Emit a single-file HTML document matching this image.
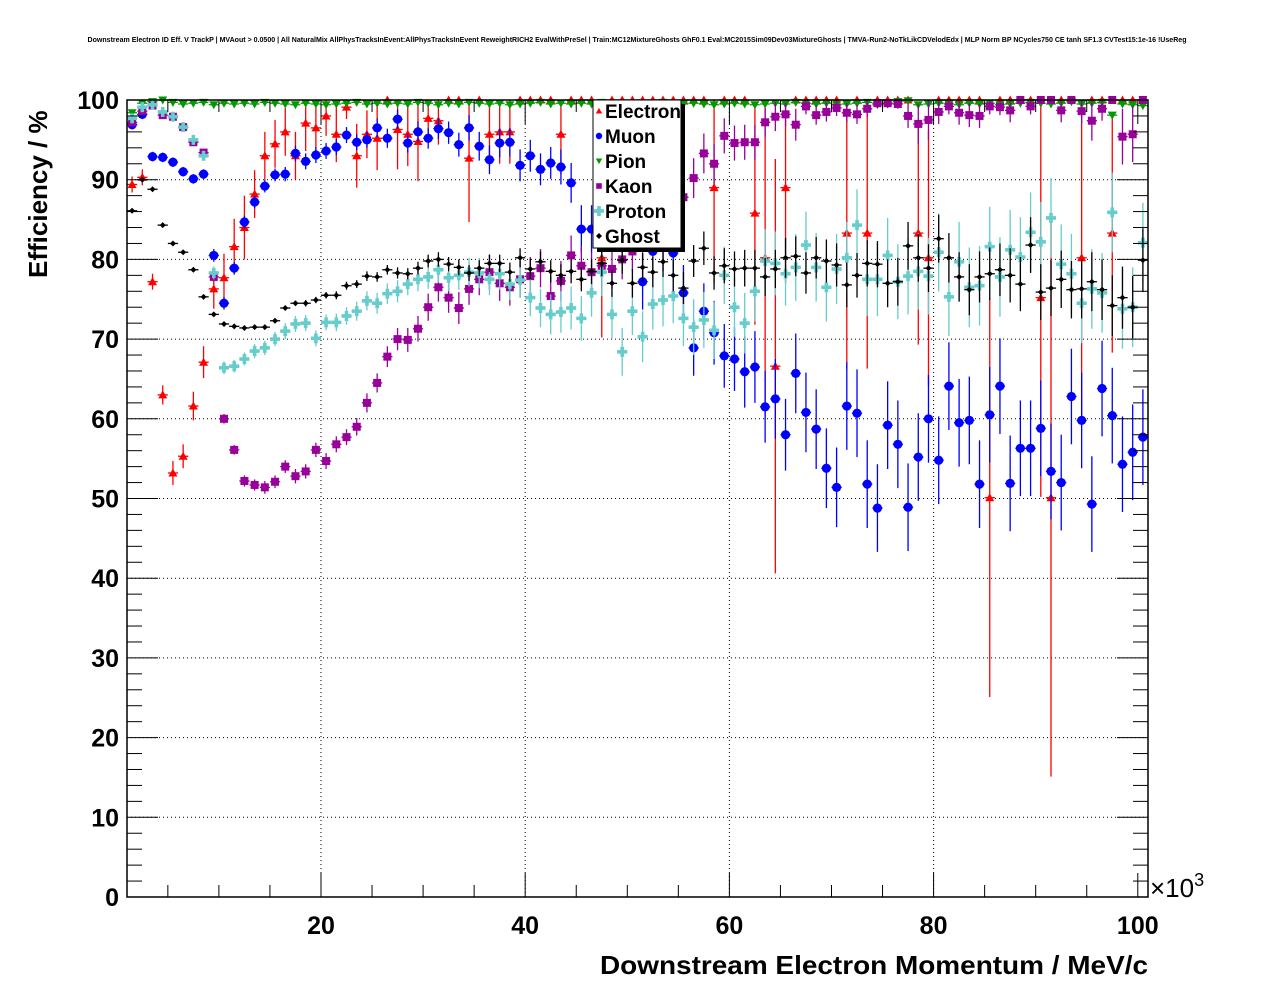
<!DOCTYPE html>
<html><head><meta charset="utf-8"><style>
html,body{margin:0;padding:0;background:#fff;}
svg{display:block;font-family:"Liberation Sans",Arial,sans-serif;}
</style></head><body>
<svg id="chart" width="1276" height="996" viewBox="0 0 1276 996" xmlns="http://www.w3.org/2000/svg">
<rect width="1276" height="996" fill="#fff"/>
<text x="637" y="42" font-size="7.1" font-weight="bold" text-anchor="middle" textLength="1099" lengthAdjust="spacingAndGlyphs">Downstream Electron ID Eff. V TrackP | MVAout &gt; 0.0500 | All NaturalMix AllPhysTracksInEvent:AllPhysTracksInEvent ReweightRICH2 EvalWithPreSel | Train:MC12MixtureGhosts GhF0.1 Eval:MC2015Sim09Dev03MixtureGhosts | TMVA-Run2-NoTkLikCDVelodEdx | MLP Norm BP NCycles750 CE tanh SF1.3 CVTest15:1e-16 !UseReg</text>
<g id="grid"></g>
<g id="marks"></g>
<g id="axes"></g>
<text transform="translate(47,278) rotate(-90)" font-size="26" font-weight="bold">Efficiency / %</text>
<text x="1148" y="974" font-size="26" font-weight="bold" text-anchor="end" textLength="548" lengthAdjust="spacingAndGlyphs">Downstream Electron Momentum / MeV/c</text>
<text x="1150" y="897" font-size="26">×10<tspan font-size="18" dy="-11">3</tspan></text>
<g id="legend"></g>
</svg>
<script>
const bins = Array.from({length:100},(_,i)=>i+1); // bin lower edges (x10^3 MeV/c)
const electronVals=[89.4,90.3,77.2,63,53.2,55.3,61.6,67.1,76.3,77.7,81.6,84,88.2,93,94.5,96,93,97.1,96.5,98,95.7,99.1,93,95.7,95.2,100,96.3,95.7,94.8,97.7,97.4,100,100,92.7,100,95.7,96,96,100,100,100,100,95.7,100,100,100,80.2,100,100,100,100,100,100,100,100,100,100,89,100,100,100,85.8,80.2,66.6,89,100,100,100,100,100,83.3,100,83.3,100,100,100,100,83.3,80.2,100,100,100,100,100,50.1,100,100,100,100,75.2,50.1,100,100,80.2,100,100,83.3,100,100,100];
const electronErr=[1,1,1,1.2,1.5,1.5,1.8,2,2.5,3,3.5,4,3,3,3,3,3,3.5,3.5,2.5,3.5,1.5,4,3,4,0.5,5,4,5,2,3,0.5,0.5,8,0.5,4,4,4,0.5,0.5,0.5,0.5,5,0.5,0.5,0.5,10,0.5,0.5,0.5,0.5,0.5,0.5,0.5,0.5,0.5,0.5,12,0.5,0.5,0.5,14,20,26,12,0.5,0.5,0.5,0.5,0.5,17,0.5,17,0.5,0.5,0.5,0.5,14,16,0.5,0.5,0.5,0.5,0.5,25,0.5,0.5,0.5,0.5,25,35,0.5,0.5,20,0.5,0.5,15,0.5,0.5,0.5];
const muonVals=[96.9,98.2,92.9,92.8,92.2,91,90.1,90.7,80.5,74.5,78.9,84.7,87.2,89.2,90.6,90.7,93.3,92.3,93.1,93.6,94.1,95.6,94.7,95,96.5,95.2,97.6,94.6,96,95.2,96.4,95.9,94.4,96.5,94.2,92.5,94.6,94.7,91.8,93,91.3,92.1,91.6,89.6,83.8,83.8,86,85,84,85,77.2,81,82,80.8,75.8,68.9,73.5,70.8,67.9,67.5,65.9,66.5,61.5,62.5,58,65.7,60.8,58.7,53.8,51.4,61.6,60.7,51.8,48.8,59.2,56.8,48.9,55.2,60,54.8,64.1,59.5,59.8,51.8,60.5,64.1,51.9,56.3,56.3,58.8,53.4,52,62.8,59.8,49.3,63.8,60.4,54.3,55.8,57.7];
const muonErr=[0.6,0.6,0.6,0.6,0.6,0.6,0.6,0.6,0.8,0.8,0.8,0.8,0.8,0.8,0.8,0.9,1,1,1,1,1,1,1,1,1.2,1.2,1.2,1.2,1.3,1.3,1.3,1.4,1.5,1.6,1.8,1.8,1.8,1.8,2,2,2,2,2.2,2.5,3,3,3,3,3,3,3.5,3.5,3.5,3.5,3.5,3.5,3.5,4,4,4,4.5,4.5,4.5,5,4.5,5,5,5,5,5,5.5,5.5,5.5,5.5,5.5,5.5,5.5,5.5,5.5,5.5,5.5,5.5,5.5,5.5,6,6,6,6,6,6,6,6,6,6,6,6,6,6,6,6];
const pionVals=[98.4,99.6,99.8,100,99.7,99.5,99.6,99.7,99.4,99.6,99.5,99.6,99.5,99.7,99.6,99.5,99.4,99.6,99.5,99.4,99.5,99.6,99.7,99.5,99.6,99.5,99.6,99.5,99.7,99.6,99.4,99.6,99.5,99.7,99.6,99.5,99.6,99.4,99.5,99.6,99.7,99.5,99.6,99.5,99.6,99.5,99.7,99.6,99.5,99.6,99.5,99.6,99.7,99.4,99.5,99.6,99.5,99.4,99.5,99.6,99.5,99.4,99.5,99.6,99.5,99.7,99.6,99.5,99.6,99.4,99.5,99.6,99.7,99.4,99.5,99.8,99.9,99.4,99.5,99.6,99.5,99.4,99.6,99.5,99.6,99.4,99.5,99.6,99.7,99.6,99.5,99.6,99.8,99.5,99.6,99.7,98.1,99.5,99.4,99.3];
const pionErr=Array(100).fill(0.2);
const kaonVals=[97.2,98.6,99.3,98.1,97.9,96.6,94.7,93.4,77.8,60,56.1,52.2,51.7,51.4,52.1,54,52.8,53.4,56.1,54.7,56.8,57.7,59,62,64.5,67.8,70,69.9,71.3,74,76.5,75.2,73.9,76.3,77.5,78.4,77,76.5,77.5,77.9,78.9,75.4,77.3,80.5,79.2,78.4,79.2,78.8,80,81,82,84,85,86,87.8,90.2,93.3,92,95.5,94.6,94.7,94.7,97.2,97.9,98.2,96.9,99.2,98.1,98.5,99,98.4,98.2,98.9,99.6,99.6,99.5,98,97,97.5,98.5,99.2,98.4,98.1,98,99.2,99.1,98.7,100,99.2,100,100,98.7,100,98.6,97.4,98.9,100,95.4,95.7,100];
const kaonErr=[0.3,0.3,0.3,0.3,0.3,0.4,0.4,0.4,0.6,0.6,0.6,0.7,0.7,0.8,0.8,0.8,0.9,0.9,0.9,1,1,1,1.1,1.2,1.2,1.3,1.4,1.5,1.6,1.7,1.8,1.9,2,2,2,2.2,2.2,2.3,2.3,2.4,2.4,2.5,2.5,2.5,2.5,2.5,2.5,2.5,2.5,2.5,2.5,2.5,2.5,2.5,2.5,2.5,2.5,2.5,2.2,2.2,2.2,2.2,1.8,1.8,1.5,2,1,1.2,1.2,1,1.2,1.2,1,0.6,0.6,0.6,1.5,2.5,2.5,1.5,1,1.5,1.5,1.5,1,1,1.5,0.5,1,0.5,0.5,1.5,0.5,1.5,2.5,1.5,0.5,3.5,3.5,0.5];
const protonVals=[97.7,99.1,99.4,98.5,97.9,96.6,95,93,78.3,66.4,66.6,67.5,68.5,68.9,70,71,71.9,72,70.1,72.1,72.1,72.9,73.5,74.8,74.5,75.7,76,76.9,77.5,77.8,78.7,77.7,78,78.4,78.3,77.5,78.2,76.9,77.4,75.2,73.9,73.1,73.4,73.9,72.6,75.8,78.4,73.1,68.4,73.5,70.3,74.4,74.9,75.4,72.6,71.5,72.4,71.1,78,74,72,76,79.8,79.5,78.2,79,81.8,79,76.5,78.8,80.2,84.3,77.5,77.5,80.5,77.2,77.9,78.5,77.9,80.9,75.3,79.7,76.5,76.7,81.6,77.8,81.2,80.3,83.4,82.2,85.2,79.4,78.2,74.5,76.3,75.8,85.9,73.8,74,82.1];
const protonErr=[0.4,0.3,0.3,0.4,0.4,0.5,0.5,0.6,0.8,0.8,0.8,0.8,0.9,0.9,0.9,1,1,1,1,1,1.1,1.1,1.2,1.2,1.3,1.3,1.4,1.4,1.5,1.5,1.6,1.7,1.8,1.8,1.9,2,2,2,2.2,2.3,2.4,2.5,2.6,2.7,2.8,3,3,3,3,3,3.2,3.2,3.3,3.4,3.5,3.5,3.5,3.6,3.6,3.7,3.8,3.8,4,4,4,4.2,4.2,4.3,4.3,4.4,4.5,4.5,4.6,4.6,4.7,4.7,4.8,4.8,4.8,4.9,4.9,5,5,5,5,5,5,5,5,5,5,5,5,5,5,5,5,5,5,5];
const ghostVals=[86.1,90,88.8,84.3,82,80.9,78.7,75.3,73.1,71.9,71.6,71.4,71.5,71.5,72.3,73.9,74.5,74.5,74.9,75.5,75.5,76.7,76.9,77.9,77.8,78.7,78.3,78.2,78.9,79.8,80,79.4,79,78.3,78.9,79.5,79.5,78.4,80.2,78.8,79.7,78.5,78,78.5,77.5,78.5,79.5,77,79.9,77,79,78.4,79.7,78,76.4,79.8,81.4,78.3,79.2,78.8,78.9,78.9,77.8,78.8,80.2,80.4,78.3,80.2,79.8,79.3,76.8,78,79.5,79.4,77,77.2,81.7,80.2,78.9,82.6,80.2,77.8,76.2,77.8,78.2,78.7,78,76.9,81.8,75.9,76.4,77.5,76.2,76.3,77.2,76.2,74.2,75.2,74,79.9];
const ghostErr=[0.2,0.2,0.2,0.2,0.2,0.2,0.2,0.2,0.2,0.2,0.2,0.2,0.2,0.3,0.3,0.3,0.3,0.4,0.4,0.4,0.5,0.5,0.5,0.6,0.6,0.6,0.7,0.7,0.8,0.8,0.9,0.9,1,1,1,1.1,1.1,1.2,1.2,1.3,1.3,1.4,1.4,1.5,1.5,1.6,1.6,1.7,1.7,1.8,1.8,1.9,1.9,2,2,2,2.1,2.1,2.2,2.2,2.3,2.3,2.4,2.4,2.5,2.5,2.6,2.6,2.7,2.7,2.8,2.8,2.9,2.9,3,3,3,3,3,3,3.1,3.1,3.2,3.2,3.3,3.3,3.4,3.4,3.5,3.5,3.5,3.6,3.6,3.7,3.7,3.8,3.8,3.9,3.9,4];
const yTicks=[0,10,20,30,40,50,60,70,80,90,100];
const xTicks=[20,40,60,80,100];
const legendLabels=["Electron","Muon","Pion","Kaon","Proton","Ghost"];

const NS="http://www.w3.org/2000/svg";
const L=127,R=1148,T=100,B=897, X0=1,X1=101, Y0=0,Y1=100;
const xs=v=>L+(v-X0)/(X1-X0)*(R-L);
const ys=v=>B-(v-Y0)/(Y1-Y0)*(B-T);
function mk(tag,attrs,parent){const e=document.createElementNS(NS,tag);for(const k in attrs)e.setAttribute(k,attrs[k]);parent.appendChild(e);return e;}
const grid=document.getElementById('grid'),axes=document.getElementById('axes'),marks=document.getElementById('marks'),leg=document.getElementById('legend');

yTicks.forEach(v=>{
  if(v>0&&v<100){const g=mk('line',{x1:L,x2:R,y1:ys(v),y2:ys(v),stroke:'#000','stroke-width':1,'stroke-dasharray':'1,3'},grid);
  
  }
  const t=mk('text',{x:L-8,y:ys(v)+9,'font-size':25,'font-weight':'bold','text-anchor':'end'},axes);
  t.textContent=v;
  
  
});
xTicks.forEach(v=>{
  if(v<100){const g=mk('line',{x1:xs(v),x2:xs(v),y1:T,y2:B,stroke:'#000','stroke-width':1,'stroke-dasharray':'1,3'},grid);
  
  }
  const t=mk('text',{x:xs(v),y:934,'font-size':25,'font-weight':'bold','text-anchor':'middle'},axes);
  t.textContent=v;
  
  
});
for(let v=0;v<=100;v+=2){const len=(v%10===0)?31:15;
  mk('line',{x1:L,x2:L+len,y1:ys(v),y2:ys(v),stroke:'#000'},axes);
  mk('line',{x1:R,x2:R-len,y1:ys(v),y2:ys(v),stroke:'#000'},axes);}
for(let v=5;v<=100;v+=5){const len=(v%20===0)?24:12;
  mk('line',{x1:xs(v),x2:xs(v),y1:B,y2:B-len,stroke:'#000'},axes);
  mk('line',{x1:xs(v),x2:xs(v),y1:T,y2:T+len,stroke:'#000'},axes);}
const fr=mk('rect',{x:L,y:T,width:R-L,height:B-T,fill:'none',stroke:'#000','stroke-width':1.5},axes);



function marker(type,col,x,y,p){
  if(type==='tu')return mk('polygon',{points:`${x-4.5},${y+3.5} ${x+4.5},${y+3.5} ${x},${y-4.5}`,fill:col},p);
  if(type==='td')return mk('polygon',{points:`${x-4.5},${y-3.5} ${x+4.5},${y-3.5} ${x},${y+4.5}`,fill:col},p);
  if(type==='c')return mk('circle',{cx:x,cy:y,r:4.6,fill:col},p);
  if(type==='s')return mk('rect',{x:x-4,y:y-4,width:8,height:8,fill:col},p);
  if(type==='x'){const g=mk('g',{},p);mk('rect',{x:x-5,y:y-1.8,width:10,height:3.6,fill:col},g);mk('rect',{x:x-1.8,y:y-5,width:3.6,height:10,fill:col},g);return g;}
  return mk('polygon',{points:`${x-3},${y} ${x},${y-3} ${x+3},${y} ${x},${y+3}`,fill:col},p);
}
const series=[
 {name:'electron',vals:electronVals,err:electronErr,col:'#ff0000',m:'tu'},
 {name:'muon',vals:muonVals,err:muonErr,col:'#0000ff',m:'c'},
 {name:'pion',vals:pionVals,err:pionErr,col:'#009900',m:'td'},
 {name:'kaon',vals:kaonVals,err:kaonErr,col:'#990099',m:'s'},
 {name:'proton',vals:protonVals,err:protonErr,col:'#66cccc',m:'x'},
 {name:'ghost',vals:ghostVals,err:ghostErr,col:'#000000',m:'d'}
];
series.forEach(s=>{
  const g=mk('g',{},marks);
  
  
  bins.forEach((b,i)=>{
    const v=s.vals[i];if(v==null)return;
    const cx=xs(b+0.5),cy=ys(v);
    const hi=ys(Math.min(100,v+s.err[i])),lo=ys(Math.max(0,v-s.err[i]));
    const pg=mk('g',{},g);
    
    
    mk('line',{x1:xs(b),x2:xs(b+1),y1:cy,y2:cy,stroke:s.col,'stroke-width':1.3,'stroke-dasharray':s.m==='td'?'4,2':'none'},pg);
    mk('line',{x1:cx,x2:cx,y1:hi,y2:lo,stroke:s.col,'stroke-width':1.3},pg);
    marker(s.m,s.col,cx,cy,pg);
  });
});
mk('rect',{x:597,y:104,width:88,height:148,fill:'#000'},leg);
const lb=mk('rect',{x:593,y:100,width:88,height:148,fill:'#fff',stroke:'#000','stroke-width':1},leg);


legendLabels.forEach((lab,i)=>{
  const y=111+i*25;
  const e=mk('g',{},leg);
  
  
  const s=series[i];
  const m=marker(s.m,s.col,599,y,e);
  if(s.m!=='x'&&s.m!=='d') m.setAttribute('transform',`translate(599,${y}) scale(0.7) translate(-599,${-y})`);
  const t=mk('text',{x:605,y:y+7,'font-size':19,'font-weight':'bold'},e);
  t.textContent=lab;
});
</script>
</body></html>
